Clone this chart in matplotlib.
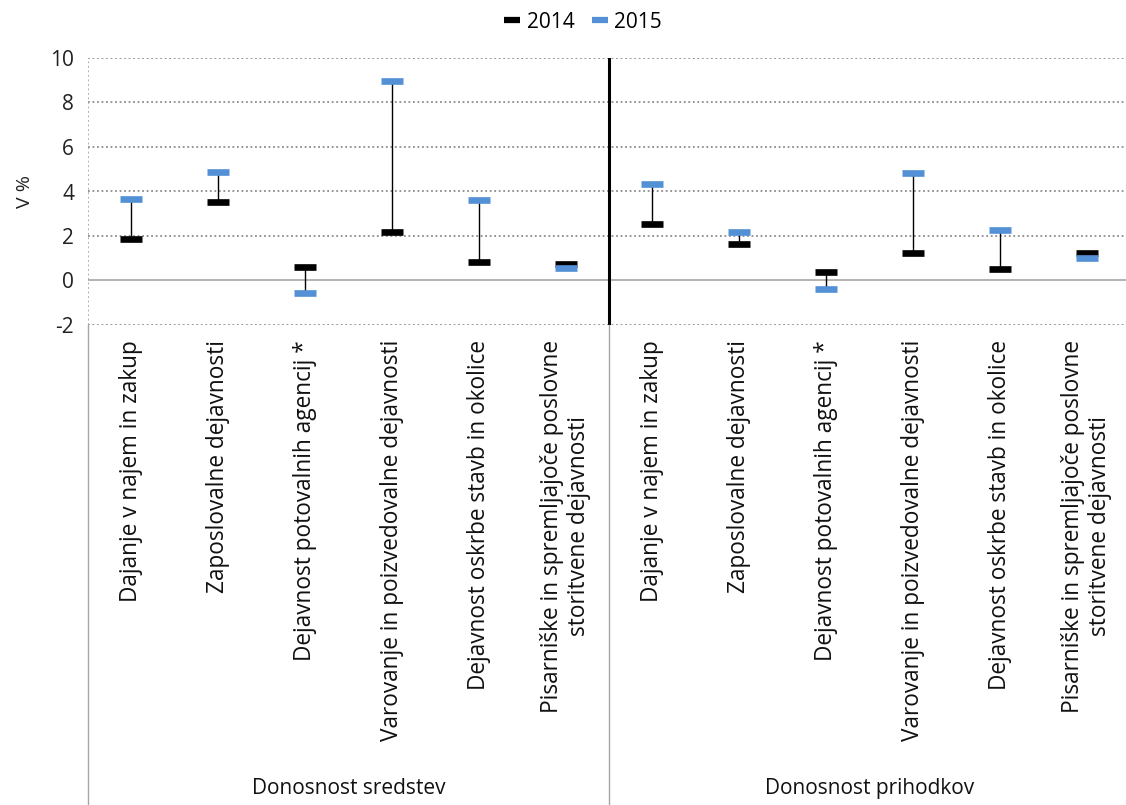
import matplotlib
matplotlib.use("Agg")
import matplotlib.pyplot as plt
from matplotlib.lines import Line2D
import matplotlib.transforms as mtrans

plt.rcParams['font.family'] = ['Open Sans', 'DejaVu Sans']

categories = [
    "Dajanje v najem in zakup",
    "Zaposlovalne dejavnosti",
    "Dejavnost potovalnih agencij *",
    "Varovanje in poizvedovalne dejavnosti",
    "Dejavnost oskrbe stavb in okolice",
    "Pisarniške in spremljajoče poslovne\nstoritvene dejavnosti",
]
groups = ["Donosnost sredstev", "Donosnost prihodkov"]

v2014 = [1.86, 3.53, 0.62, 2.18, 0.81, 0.72,
         2.55, 1.62, 0.38, 1.25, 0.50, 1.22]
v2015 = [3.66, 4.89, -0.56, 8.98, 3.60, 0.58,
         4.34, 2.18, -0.36, 4.83, 2.25, 0.99]

yticks = [-2, 0, 2, 4, 6, 8, 10]

W, H = 1126, 805
fig = plt.figure(figsize=(W/100, H/100), dpi=100)
left, right, top, bottom = 88, 1130, 58, 325
ax = fig.add_axes([left/W, 1-bottom/H, (right-left)/W, (bottom-top)/H])

n = len(v2014)
xs = list(range(n))
ax.set_xlim(-0.5, n-0.5)
ax.set_ylim(-2, 10)

# grid
for t in yticks:
    if t == 0:
        ax.axhline(t, color='#a6a6a6', lw=1.2, zorder=1)
    else:
        ax.axhline(t, color='#8c8c8c', lw=1.3, ls=(0, (1, 1.5)), zorder=1)

for s in ax.spines.values():
    s.set_visible(False)
ax.axvline(-0.5, color='#a6a6a6', lw=1.3, ls=(0, (1, 1.5)), zorder=1)
ax.axvline(5.5, color='black', lw=2.2, zorder=2)

# connecting lines
for x, a, b in zip(xs, v2014, v2015):
    ax.plot([x, x], [a, b], color='black', lw=1, zorder=3)
ax.plot(xs, v2014, ls='none', marker='_', ms=16, mew=4.8, color='black', zorder=4)
ax.plot(xs, v2015, ls='none', marker='_', ms=16, mew=4.8, color='#5490d6', zorder=5)

ax.set_xticks([])
ax.set_yticks(yticks)
ax.set_yticklabels([str(t) for t in yticks], fontsize=15, color='#222222')
ax.tick_params(axis='y', length=0, pad=10)
ax.set_ylabel("V %", fontsize=14, color='#222222', labelpad=12)

# category labels
trans = mtrans.blended_transform_factory(ax.transData, fig.transFigure)
labels = categories + categories
for x, lab in zip(xs, labels):
    ax.text(x, 1-340/H, lab, rotation=90, ha='center', va='top',
            fontsize=16.3, transform=trans, color='#111111',
            multialignment='center', linespacing=1.2)

# group labels
for gi, g in enumerate(groups):
    cx = gi*6 + 2.5
    ax.text(cx, 1-788/H, g, ha='center', va='center', fontsize=15,
            transform=trans, color='#111111')

# separators in label area
for xb in [-0.5, 5.5]:
    ax.add_line(Line2D([xb, xb], [1-bottom/H, 0], transform=trans,
                       color='#a6a6a6', lw=1, clip_on=False))

# legend
handles = [Line2D([], [], ls='none', marker='_', ms=11, mew=4.5, color='black'),
           Line2D([], [], ls='none', marker='_', ms=11, mew=4.5, color='#5490d6')]
fig.legend(handles, ['2014', '2015'], loc='center', bbox_to_anchor=(583/W, 1-22/H),
           ncol=2, frameon=False, fontsize=15, handlelength=0.8,
           handletextpad=0.3, columnspacing=0.8)

fig.savefig("out.png", dpi=100)
